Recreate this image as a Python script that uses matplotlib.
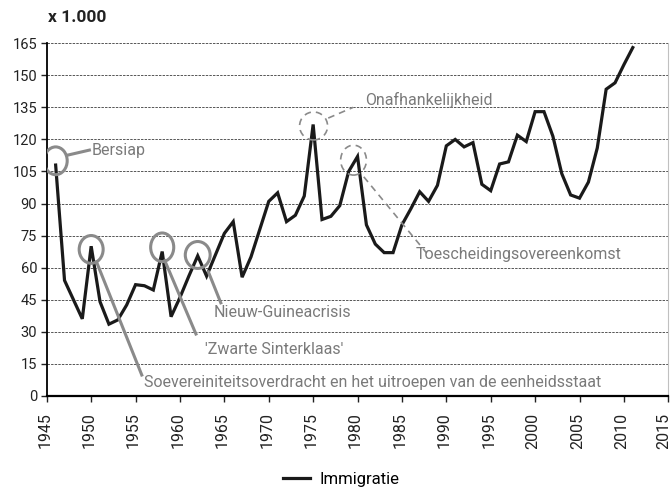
import matplotlib
matplotlib.use("Agg")
import matplotlib.pyplot as plt
import matplotlib.transforms as mtransforms
from matplotlib.patches import Ellipse

plt.rcParams['font.family'] = ['Roboto', 'DejaVu Sans']

# immigratie per jaar, x 1.000
years = list(range(1946, 2012))
immigratie = [108, 54, 45, 36, 70, 44, 33.5, 35.5, 42.5, 52,
              51.5, 49.5, 67.5, 37, 46, 56, 65.5, 56, 66, 76,
              81.5, 55.5, 65, 78, 91, 95, 81.5, 84.5, 93.5, 127,
              82.5, 84, 89, 105, 112, 80, 71, 67, 67, 80,
              87.5, 95.5, 91, 98.5, 117, 120, 116.5, 118.5, 99, 96,
              108.5, 109.5, 122, 119, 133, 133, 121.5, 104, 94, 92.5,
              100, 116, 143.5, 146.5, 155, 163]

yticks = list(range(0, 166, 15))
xticks = list(range(1945, 2016, 5))

events = ['Bersiap',
          "Soevereiniteitsoverdracht en het uitroepen van de eenheidsstaat",
          "'Zwarte Sinterklaas'",
          'Nieuw-Guineacrisis',
          'Onafhankelijkheid',
          'Toescheidingsovereenkomst']

gray = '#8a8a8a'

fig = plt.figure(figsize=(6.72, 4.9), dpi=100)
ax = fig.add_axes([0.0696, 0.1924, 0.9249, 0.7192])

ax.plot(years, immigratie, color='#1a1a1a', lw=2.3, label='Immigratie',
        solid_joinstyle='miter', zorder=3)

ax.set_xlim(1945, 2015)
ax.set_ylim(0, 165)
ax.set_xticks(xticks)
ax.set_yticks(yticks)
ax.set_xticklabels([str(t) for t in xticks], rotation=90, fontsize=11.5, color='#222222')
ax.set_yticklabels([str(t) for t in yticks], fontsize=10.5, color='#222222')
ax.tick_params(axis='both', direction='out', length=4, width=1, color='#222222', pad=3)
ax.tick_params(axis='x', pad=8)
# labels iets naar links, zodat 2015 binnen het beeld valt
xlabels = ax.get_xticklabels()
for i, lab in enumerate(xlabels):
    dx = -5 if i == len(xlabels) - 1 else -2
    shift = mtransforms.ScaledTranslation(dx / 100, 0, fig.dpi_scale_trans)
    lab.set_transform(lab.get_transform() + shift)
ax.yaxis.grid(True, linestyle=(0, (2.5, 1.2)), lw=0.7, color='#555555')
ax.set_axisbelow(True)
ax.spines['top'].set_visible(False)
ax.spines['right'].set_color('#c0c0c0')
ax.spines['left'].set_linewidth(1.3)
ax.spines['bottom'].set_linewidth(1.6)

# omcirkelde gebeurtenissen
solid = dict(fill=False, ec=gray, lw=2.2, zorder=4)
dashed = dict(fill=False, ec=gray, lw=1.2, ls=(0, (4, 3)), zorder=4)
ax.add_patch(Ellipse((1946, 110), 2.6, 13, **solid))
ax.add_patch(Ellipse((1950, 68.5), 2.7, 13, **solid))
ax.add_patch(Ellipse((1958, 69.5), 2.6, 13.4, **solid))
ax.add_patch(Ellipse((1962, 65.9), 2.8, 12.6, **solid))
ax.add_patch(Ellipse((1975.05, 126.3), 3.15, 13.1, **dashed))
ax.add_patch(Ellipse((1979.55, 110.3), 2.9, 14, **dashed))

# verbindingslijnen
ax.plot([1947.3, 1949.8], [112.6, 115], color=gray, lw=2.2, zorder=4)
ax.plot([1950.6, 1955.7], [62.7, 9.7], color=gray, lw=2.2, zorder=4)
ax.plot([1958.3, 1961.8], [63.2, 28.9], color=gray, lw=2.2, zorder=4)
ax.plot([1963.2, 1964.6], [58, 43.5], color=gray, lw=2.2, zorder=4)
ax.plot([1976.7, 1979.5], [130, 135], color=gray, lw=1.2, ls=(0, (4, 3)), zorder=4)
ax.plot([1980.7, 1987.8], [102.5, 66.7], color=gray, lw=1.2, ls=(0, (4, 3)), zorder=4)

tkw = dict(color='#7a7a7a', fontsize=11.5, va='center', ha='left', zorder=5)
ax.text(1950.0, 115, events[0], **tkw)
ax.text(1956.0, 6.1, events[1], **tkw)
ax.text(1962.8, 21.7, events[2], **tkw)
ax.text(1963.8, 38.9, events[3], **tkw)
ax.text(1980.8, 138.6, events[4], **tkw)
ax.text(1986.5, 65.9, events[5], **tkw)

fig.text(0.071, 0.965, 'x 1.000', fontsize=12.5, fontweight='bold', va='center', ha='left',
         color='#222222')

fig.legend(loc='center', bbox_to_anchor=(0.508, 0.022), frameon=False, fontsize=12,
           handlelength=1.6, handletextpad=0.6)

fig.savefig('out.png', dpi=100)
